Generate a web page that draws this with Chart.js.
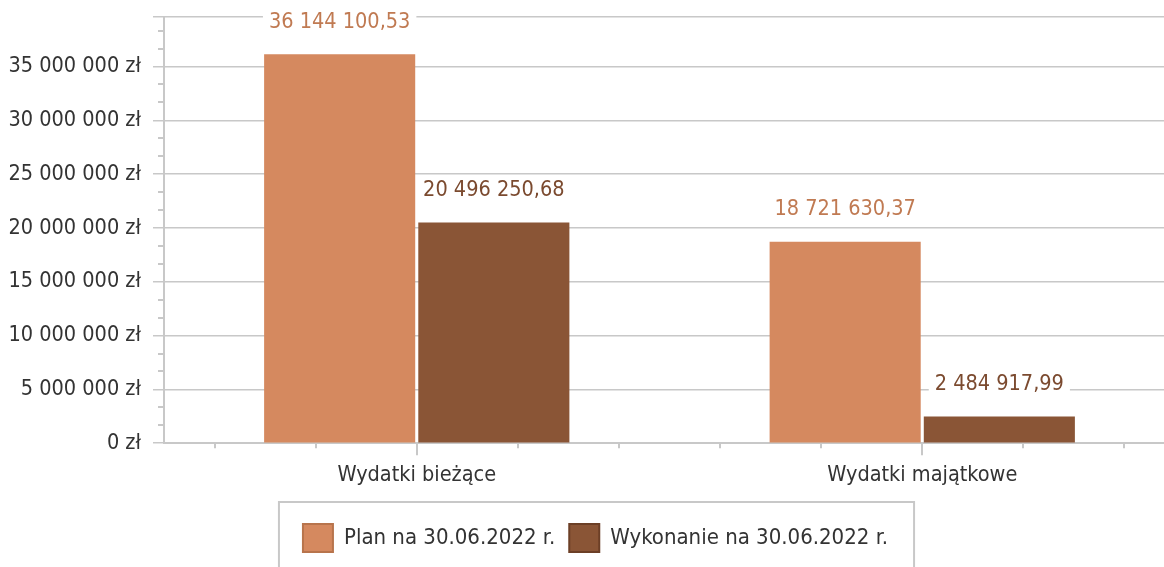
<!DOCTYPE html>
<html>
<head>
<meta charset="utf-8">
<script src="https://cdn.jsdelivr.net/npm/chart.js@4"></script>
<style>
  html, body { margin: 0; padding: 0; background: #fff; overflow: hidden; }
  #wrap { width: 1190px; height: 600px; position: relative; }
</style>
</head>
<body>
<div id="wrap"><canvas id="chart"></canvas></div>
<script>
// ─── Data ─────────────────────────────────────────────
const categories = ['Wydatki bieżące', 'Wydatki majątkowe'];
const seriesNames = ['Plan na 30.06.2022 r.', 'Wykonanie na 30.06.2022 r.'];
const planValues = [36144100.53, 18721630.37];
const wykonanieValues = [20496250.68, 2484917.99];
const yTicks = [0, 5000000, 10000000, 15000000, 20000000, 25000000, 30000000, 35000000];
const yMax = 39600000;
const yStep = 5000000;

const FONT = '"DejaVu Sans Condensed", "DejaVu Sans", sans-serif';
const GRID = '#c8c8c8';

// "36 144 100,53"
function fmtNum(v, decimals) {
  const parts = v.toFixed(decimals).split('.');
  const int = parts[0].replace(/\B(?=(\d{3})+(?!\d))/g, ' ');
  return parts[1] ? int + ',' + parts[1] : int;
}

// ─── Value labels with white box above bars ───────────
const valueLabels = {
  id: 'valueLabels',
  afterDatasetsDraw(chart) {
    const ctx = chart.ctx;
    ctx.save();
    ctx.font = '21.5px ' + FONT;
    ctx.textAlign = 'center';
    ctx.textBaseline = 'middle';
    chart.data.datasets.forEach((ds, i) => {
      chart.getDatasetMeta(i).data.forEach((bar, j) => {
        const txt = fmtNum(ds.data[j], 2);
        const w = ctx.measureText(txt).width;
        const y = bar.y - 32;
        ctx.fillStyle = '#fff';
        ctx.fillRect(bar.x - w / 2 - 6, y - 12, w + 12, 24);
        ctx.fillStyle = ds.labelColor;
        ctx.fillText(txt, bar.x, y);
      });
    });
    ctx.restore();
  }
};

// ─── Minor tick marks on both axes + legend frame ────
const axisExtras = {
  id: 'axisExtras',
  afterUpdate(chart) {
    // nudge legend a bit to the right, like the original
    const lg = chart.legend;
    lg.left += 8;
    lg.right += 8;
    lg.legendHitBoxes.forEach(b => { b.left += 8; });
  },
  afterDraw(chart) {
    const ctx = chart.ctx;
    const xs = chart.scales.x, ys = chart.scales.y;
    ctx.save();
    ctx.strokeStyle = GRID;
    ctx.lineWidth = 2;
    ctx.beginPath();
    // y minor ticks
    for (let v = yStep / 3; v < yMax; v += yStep / 3) {
      if (Math.abs(v / yStep - Math.round(v / yStep)) < 0.01) continue;
      const y = Math.round(ys.getPixelForValue(v));
      ctx.moveTo(ys.right - 6, y);
      ctx.lineTo(ys.right, y);
    }
    // x minor ticks
    for (let k = -2; k <= 7; k++) {
      if (k % 5 === 0) continue;
      const x = Math.round(xs.getPixelForValue(k / 5));
      ctx.moveTo(x, xs.top);
      ctx.lineTo(x, xs.top + 5);
    }
    ctx.stroke();

    // legend frame
    const boxes = chart.legend.legendHitBoxes;
    if (boxes && boxes.length) {
      const l = Math.min(...boxes.map(b => b.left));
      const r = Math.max(...boxes.map(b => b.left + b.width));
      const t = Math.min(...boxes.map(b => b.top));
      ctx.strokeRect(l - 24, t - 22, r - l + 50, 120);
    }
    ctx.restore();
  }
};

new Chart(document.getElementById('chart'), {
  type: 'bar',
  data: {
    labels: categories,
    datasets: [
      {
        label: seriesNames[0],
        data: planValues,
        backgroundColor: '#d5895f',
        borderColor: '#b8744c',
        labelColor: '#c07a52',
        borderWidth: 0,
        categoryPercentage: 0.61,
        barPercentage: 0.98
      },
      {
        label: seriesNames[1],
        data: wykonanieValues,
        backgroundColor: '#8a5536',
        borderColor: '#6c3f26',
        labelColor: '#7b4a2f',
        borderWidth: 0,
        categoryPercentage: 0.61,
        barPercentage: 0.98
      }
    ]
  },
  options: {
    responsive: true,
    maintainAspectRatio: false,
    animation: false,
    layout: { padding: { top: 17, right: 15, left: 0, bottom: 38 } },
    plugins: {
      tooltip: { enabled: false },
      legend: {
        position: 'bottom',
        labels: {
          color: '#333',
          font: { family: FONT, size: 22 },
          boxWidth: 30,
          boxHeight: 28,
          padding: 14,
          generateLabels(chart) {
            return chart.data.datasets.map((ds, i) => ({
              text: ds.label,
              fillStyle: ds.backgroundColor,
              strokeStyle: ds.borderColor,
              lineWidth: 2,
              fontColor: '#333',
              datasetIndex: i
            }));
          }
        }
      }
    },
    scales: {
      x: {
        offset: true,
        border: { color: GRID, width: 2 },
        grid: { offset: false, drawOnChartArea: false, color: GRID, lineWidth: 2, tickLength: 12 },
        afterFit(scale) { scale.height += 15; },
        ticks: { color: '#333', font: { family: FONT, size: 21.5 }, padding: 7 }
      },
      y: {
        min: 0,
        max: yMax,
        border: { color: GRID, width: 2 },
        grid: { color: GRID, lineWidth: 1.5, tickLength: 11 },
        afterBuildTicks(scale) {
          scale.ticks = yTicks.concat([yMax]).map(v => ({ value: v }));
        },
        afterFit(scale) {
          scale.width = 164;
          scale.paddingTop = 0;
          scale.paddingBottom = 0;
        },
        ticks: {
          autoSkip: false,
          color: '#333',
          padding: 12,
          font: { family: FONT, size: 21.5 },
          callback: v => (yTicks.includes(v) ? fmtNum(v, 0) + ' zł' : '')
        }
      }
    }
  },
  plugins: [valueLabels, axisExtras]
});
</script>
</body>
</html>
